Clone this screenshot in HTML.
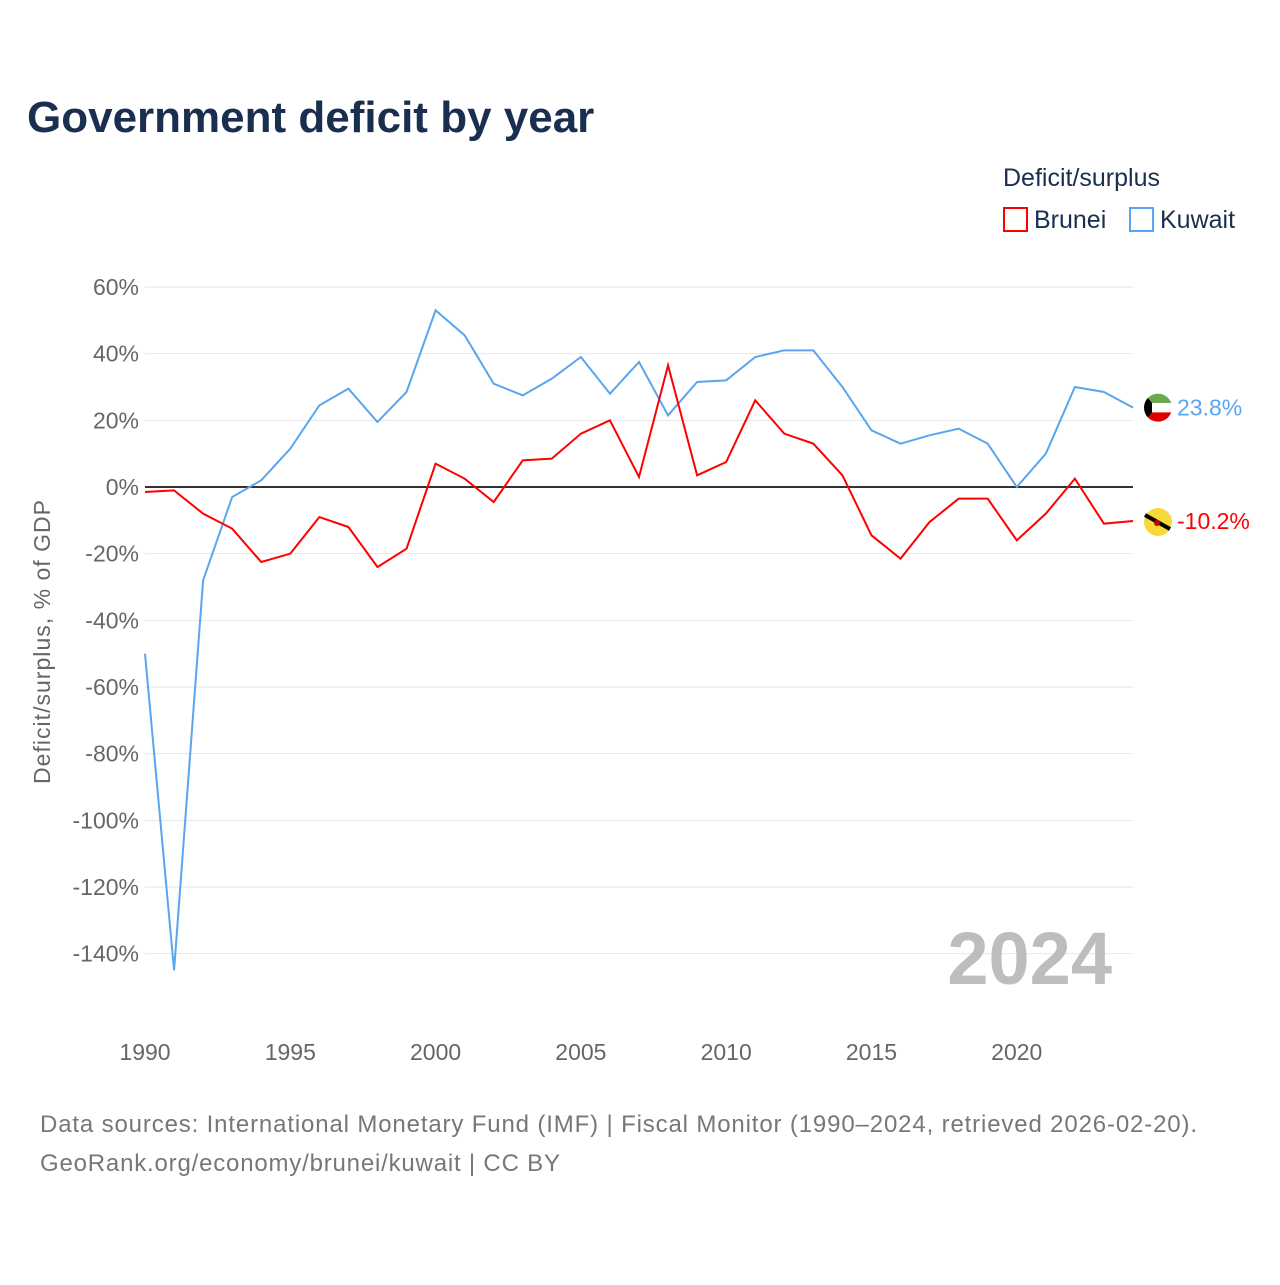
<!DOCTYPE html>
<html><head><meta charset="utf-8"><style>
body{margin:0;background:#fff;font-family:"Liberation Sans",sans-serif}
</style></head><body>
<svg width="1280" height="1280" xmlns="http://www.w3.org/2000/svg" id="svg" font-family="Liberation Sans, sans-serif">
<defs><clipPath id="kc"><circle id="kcc" cx="1158" cy="407" r="14"/></clipPath></defs>
<text x="27" y="132" font-size="44" font-weight="bold" fill="#1a2e4f">Government deficit by year</text>
<text x="1003" y="186" font-size="25" fill="#1a2e4f">Deficit/surplus</text>
<g><rect x="1004" y="208" width="23" height="23" fill="none" stroke="#f00" stroke-width="2"/><text x="1034" y="228" font-size="25" fill="#1a2e4f">Brunei</text></g>
<g><rect x="1130" y="208" width="23" height="23" fill="none" stroke="#5aa5ef" stroke-width="2"/><text x="1160" y="228" font-size="25" fill="#1a2e4f">Kuwait</text></g>
<g id="grid"></g><g id="axes"></g><g id="series"></g>
<text x="1112" y="984" font-size="74" font-weight="bold" fill="#bdbdbd" text-anchor="end">2024</text>
<text transform="translate(50,642) rotate(-90)" font-size="23" fill="#666" text-anchor="middle" textLength="284">Deficit/surplus, % of GDP</text>
<text x="40" y="1132" font-size="24" fill="#777" textLength="1157">Data sources: International Monetary Fund (IMF) | Fiscal Monitor (1990–2024, retrieved 2026-02-20).</text>
<text x="40" y="1171" font-size="24" fill="#777" textLength="520">GeoRank.org/economy/brunei/kuwait | CC BY</text>
</svg>
<script>
const years=[];for(let y=1990;y<=2024;y++)years.push(y);
const kuwait=[-50,-145,-28,-3,2,11.5,24.5,29.5,19.5,28.5,53,45.5,31,27.5,32.5,39,28,37.5,21.5,31.5,32,39,41,41,30,17,13,15.5,17.5,13,0,10,30,28.5,23.8];
const brunei=[-1.5,-1,-8,-12.5,-22.5,-20,-9,-12,-24,-18.5,7,2.5,-4.5,8,8.5,16,20,3,36.5,3.5,7.5,26,16,13,3.5,-14.5,-21.5,-10.5,-3.5,-3.5,-16,-8,2.5,-11,-10.2];
const yTicks=[60,40,20,0,-20,-40,-60,-80,-100,-120,-140];
const xTicks=[1990,1995,2000,2005,2010,2015,2020];
const X=y=>145+(y-1990)*(1133-145)/34;
const Y=v=>487-v*200/60;
const NS="http://www.w3.org/2000/svg";
function mk(t,a,p){const e=document.createElementNS(NS,t);for(const k in a)e.setAttribute(k,a[k]);p.appendChild(e);return e;}
const g=document.getElementById('grid'),ax=document.getElementById('axes'),s=document.getElementById('series');
yTicks.forEach(v=>{
 const l=mk('line',{x1:145,x2:1133,y1:Y(v),y2:Y(v),stroke:v===0?'#333':'#e6e6e6','stroke-width':v===0?2:1},g);
 
 
 const t=mk('text',{x:139,y:Y(v)+8,'font-size':23,fill:'#666','text-anchor':'end'},ax);t.textContent=v+'%';
 
 
});
xTicks.forEach(y=>{
 const t=mk('text',{x:X(y),y:1060,'font-size':23,fill:'#666','text-anchor':'middle'},ax);t.textContent=y;
 
 
});
function line(d,c,n){
 const p=mk('polyline',{points:d.map((v,i)=>X(years[i])+','+Y(v)).join(' '),fill:'none',stroke:c,'stroke-width':2},s);
 
 
}
line(kuwait,'#5aa5ef','kuwait-line');line(brunei,'#f00','brunei-line');
const lk=kuwait[kuwait.length-1],lb=brunei[brunei.length-1];
const ky=Y(lk);
document.getElementById('kcc').setAttribute('cy',ky);
const kf=mk('g',{'clip-path':'url(#kc)'},s);


mk('rect',{x:1144,y:ky-14,width:28,height:10,fill:'#6aa84f'},kf);
mk('rect',{x:1144,y:ky-4.7,width:28,height:9.4,fill:'#fff'},kf);
mk('rect',{x:1144,y:ky+4.7,width:28,height:10,fill:'#d00'},kf);
mk('path',{d:`M1144,${ky-14} L1152,${ky-4.7} L1152,${ky+4.7} L1144,${ky+14}Z`,fill:'#000'},kf);
const kt=mk('text',{x:1177,y:ky+8,'font-size':23,fill:'#5aa5ef'},s);kt.textContent=lk+'%';


const bf=mk('g',{},s);


mk('circle',{cx:1158,cy:Y(lb)+1,r:14,fill:'#f7d93a'},bf);
mk('line',{x1:1145,y1:Y(lb)-6,x2:1170,y2:Y(lb)+8,stroke:'#000','stroke-width':4},bf);
mk('circle',{cx:1157,cy:Y(lb)+2,r:3,fill:'#c00'},bf);
const bt=mk('text',{x:1177,y:Y(lb)+8,'font-size':23,fill:'#f00'},s);bt.textContent=lb+'%';


</script>
</body></html>
